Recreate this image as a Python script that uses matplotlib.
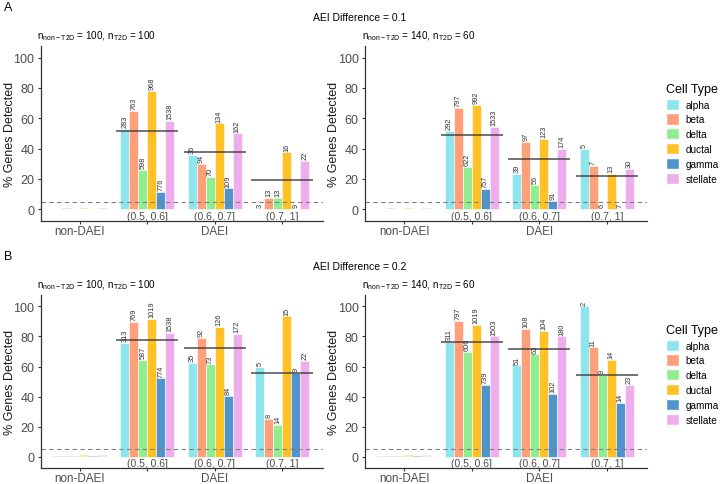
import numpy as np
import matplotlib
matplotlib.use("Agg")
import matplotlib.pyplot as plt
from matplotlib.patches import Patch

plt.rcParams['font.family'] = ['Liberation Sans', 'DejaVu Sans']
plt.rcParams['mathtext.default'] = 'regular'

# -------- data --------
cell_types = ["alpha", "beta", "delta", "ductal", "gamma", "stellate"]
colors = ["#8EE5EE", "#FFA07A", "#90EE90", "#FFC125", "#4F94CD", "#EEAEEE"]
bins = ["(0.5, 0.6]", "(0.6, 0.7]", "(0.7, 1]"]
x_labels = ["non-DAEI", "", "DAEI", ""]
nondaei_pct = [0.4, 0.6, 0.4, 0.8, 0.4, 1.0]

pct_a1 = [[52.8, 65.1, 25.8, 78.1, 11.7, 58.1],
          [36.1, 29.8, 21.4, 56.7, 13.8, 50.0],
          [0.0, 7.7, 7.7, 37.5, 0.0, 31.8]]
n_a1 = [[283, 763, 598, 968, 776, 1538],
        [36, 94, 70, 134, 109, 162],
        [3, 13, 13, 16, 9, 22]]
mean_a1 = [51.7, 38.0, 19.6]

pct_a2 = [[51.7, 66.7, 27.8, 68.9, 13.2, 54.5],
          [23.1, 44.3, 16.1, 46.3, 5.5, 39.7],
          [40.0, 28.6, 0.0, 23.1, 0.0, 26.7]]
n_a2 = [[292, 797, 622, 992, 757, 1533],
        [39, 97, 56, 123, 91, 174],
        [5, 7, 6, 13, 7, 30]]
mean_a2 = [49.0, 33.1, 22.0]

pct_b1 = [[75.7, 89.6, 64.5, 91.6, 52.1, 82.3],
          [62.5, 79.0, 61.4, 86.3, 40.4, 81.9],
          [60.0, 25.0, 21.4, 93.3, 55.6, 63.6]]
n_b1 = [[313, 769, 587, 1019, 774, 1538],
        [35, 92, 73, 126, 84, 172],
        [5, 8, 14, 15, 9, 22]]
mean_b1 = [77.9, 72.0, 55.4]

pct_b2 = [[76.2, 90.5, 69.8, 87.9, 47.5, 80.1],
          [60.7, 85.2, 68.0, 83.7, 41.9, 80.1],
          [100.0, 72.7, 54.5, 64.3, 35.7, 47.8]]
n_b2 = [[311, 797, 606, 1019, 739, 1503],
        [51, 108, 63, 104, 102, 180],
        [2, 11, 9, 14, 14, 23]]
mean_b2 = [76.6, 71.7, 54.3]

subtitle_left = r"$n_{non-T2D}$ = 100, $n_{T2D}$ = 100"
subtitle_right = r"$n_{non-T2D}$ = 140, $n_{T2D}$ = 60"

grey = "#4D4D4D"
bw = 0.8 / len(cell_types)


def draw_panel(ax, pct, counts, means, subtitle, ylab_x):
    offs = (np.arange(len(cell_types)) - 2.5) * bw
    # non-DAEI (faint)
    ax.bar(1 + offs, nondaei_pct, width=bw, color=colors, alpha=0.35, linewidth=0)
    for g in range(len(bins)):
        xc = g + 2
        ax.bar(xc + offs, pct[g], width=bw, color=colors,
               edgecolor="white", linewidth=0.4)
        for i in range(len(cell_types)):
            ax.text(xc + offs[i], pct[g][i] + 1.2, str(counts[g][i]),
                    rotation=90, ha="center", va="bottom", fontsize=5.3, color="#333333")
        ax.hlines(means[g], xc - 0.46, xc + 0.46, color="#3a3a3a", lw=1.1, alpha=0.9)
        ax.text(xc, -4.2, bins[g], ha="center", va="center", fontsize=7.5, color=grey)
    ax.axhline(5, color="#808080", ls=(0, (4, 3)), lw=0.8)

    ax.set_xlim(0.42, 4.6)
    ax.set_ylim(-7.7, 107.7)
    ax.set_xticks([1, 2, 3, 4])
    ax.set_xticklabels(x_labels, fontsize=8.4, color=grey)
    ax.set_yticks([0, 20, 40, 60, 80, 100])
    ax.tick_params(axis="y", labelsize=9, labelcolor=grey, color="#333333", length=2.5, pad=2)
    ax.tick_params(axis="x", color="#333333", length=2.5, pad=0.5)
    for s in ["top", "right"]:
        ax.spines[s].set_visible(False)
    for s in ["left", "bottom"]:
        ax.spines[s].set_color("#333333")
        ax.spines[s].set_linewidth(0.9)
    ax.set_ylabel("% Genes Detected", fontsize=9, color="#1a1a1a")
    ax.yaxis.set_label_coords(ylab_x, 0.5)
    ax.text(-0.012, 1.063, subtitle, transform=ax.transAxes, fontsize=7.1,
            ha="left", va="center")


fig = plt.figure(figsize=(7.2, 4.85), dpi=100)

ax_a1 = fig.add_axes([0.0565, 0.5423, 0.392, 0.3608])
ax_a2 = fig.add_axes([0.507, 0.5423, 0.392, 0.3608])
ax_b1 = fig.add_axes([0.0565, 0.0325, 0.392, 0.3575])
ax_b2 = fig.add_axes([0.507, 0.0325, 0.392, 0.3575])

draw_panel(ax_a1, pct_a1, n_a1, mean_a1, subtitle_left, -0.088)
draw_panel(ax_a2, pct_a2, n_a2, mean_a2, subtitle_right, -0.09)
draw_panel(ax_b1, pct_b1, n_b1, mean_b1, subtitle_left, -0.088)
draw_panel(ax_b2, pct_b2, n_b2, mean_b2, subtitle_right, -0.09)

fig.text(0.5, 1 - 18 / 485, "AEI Difference = 0.1", ha="center", va="center", fontsize=7.5)
fig.text(0.5, 1 - 267 / 485, "AEI Difference = 0.2", ha="center", va="center", fontsize=7.5)
fig.text(0.006, 1 - 8 / 485, "A", ha="left", va="center", fontsize=9)
fig.text(0.006, 1 - 257 / 485, "B", ha="left", va="center", fontsize=9)

handles = [Patch(facecolor=c, edgecolor="white", label=t) for c, t in zip(colors, cell_types)]
for ytop in [1 - 79 / 485, 1 - 320 / 485]:
    fig.legend(handles=handles, title="Cell Type", loc="upper left",
               bbox_to_anchor=(0.918, ytop), frameon=False, fontsize=7.2,
               title_fontsize=9, handlelength=1.35, handleheight=1.35,
               labelspacing=0.36, handletextpad=0.6, borderpad=0, alignment="left")

fig.savefig("out.png", dpi=100)
